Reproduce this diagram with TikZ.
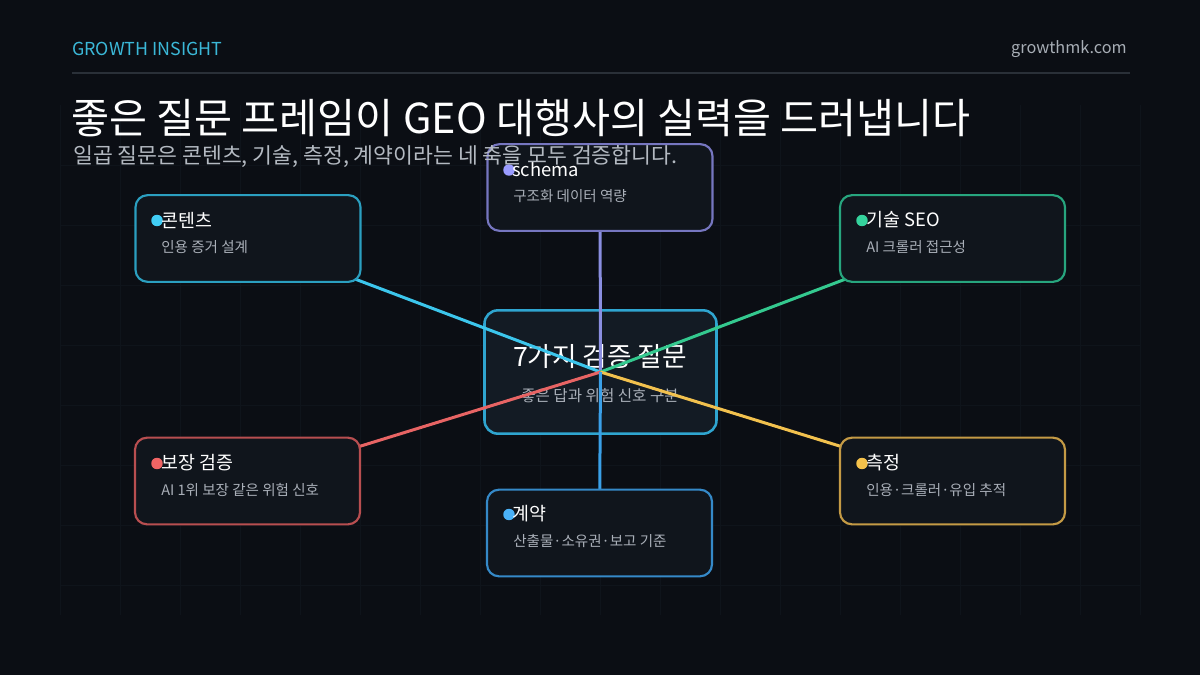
\documentclass[tikz,border=0pt]{standalone}
\usepackage{fontspec}
\setmainfont{Noto Sans CJK KR}
\usetikzlibrary{backgrounds}
\pgfdeclarelayer{back}
\pgfdeclarelayer{mid}
\pgfsetlayers{back,mid,main}
\definecolor{bg}{HTML}{0B0E14}
\definecolor{gridc}{HTML}{0F141B}
\definecolor{rulec}{HTML}{2A3038}
\definecolor{hdrc}{HTML}{3BB8D8}
\definecolor{sitec}{HTML}{A8AEB6}
\definecolor{subc}{HTML}{B4BAC2}
\definecolor{boxfill}{HTML}{10151C}
\definecolor{cfill}{HTML}{131B24}
\definecolor{txtgray}{HTML}{A9AFB8}
\definecolor{cyB}{HTML}{2B9FC0}\definecolor{cyL}{HTML}{3CC6EC}\definecolor{cyD}{HTML}{41CDF5}
\definecolor{puB}{HTML}{7676C0}\definecolor{puL}{HTML}{8A8EE0}\definecolor{puD}{HTML}{9A9CFF}
\definecolor{grB}{HTML}{27A57E}\definecolor{grL}{HTML}{34C98F}\definecolor{grD}{HTML}{35D39D}
\definecolor{reB}{HTML}{B84E50}\definecolor{reL}{HTML}{E86464}\definecolor{reD}{HTML}{F06464}
\definecolor{yeB}{HTML}{C49A45}\definecolor{yeL}{HTML}{F2C14E}\definecolor{yeD}{HTML}{F5C24B}
\definecolor{blB}{HTML}{3589C8}\definecolor{blL}{HTML}{3AA0E8}\definecolor{blD}{HTML}{4AB2F8}
\definecolor{ceB}{HTML}{2FA5D0}
\tikzset{
  obox/.style={rectangle, rounded corners=9pt, fill=boxfill, line width=1.6pt,
    minimum width=168.75pt, minimum height=65pt, inner sep=0pt},
  cbox/.style={rectangle, rounded corners=10pt, fill=cfill, draw=ceB, line width=1.9pt,
    minimum width=174pt, minimum height=92.5pt, inner sep=0pt},
  bdot/.style={circle, minimum size=8.6pt, inner sep=0pt},
  btitle/.style={anchor=west, inner sep=0pt, text=white, font=\fontsize{13.8}{16}\selectfont},
  bsub/.style={anchor=west, inner sep=0pt, text=txtgray, font=\fontsize{10.9}{13}\selectfont},
  conn/.style={line width=2.25pt},
}
\begin{document}
\begin{tikzpicture}[x=0.75pt,y=-0.75pt]
\useasboundingbox (0,0) rectangle (1200,675);
\begin{pgfonlayer}{back}
\fill[bg] (0,0) rectangle (1200,675);
\foreach \gx in {60,120,...,1140} \draw[gridc, line width=0.75pt] (\gx,105) -- (\gx,615);
\foreach \gy in {165,225,...,585} \draw[gridc, line width=0.75pt] (60,\gy) -- (1140,\gy);
\end{pgfonlayer}

% header
\node[anchor=west, inner sep=0pt, text=hdrc, font=\fontsize{13.4}{15}\selectfont] (hdr) at (72,49) {GROWTH INSIGHT};
\node[anchor=east, inner sep=0pt, text=sitec, font=\fontsize{12.2}{14}\selectfont] (site) at (1127,49) {growthmk.com};
\coordinate (ruleL) at (72,73);
\coordinate (ruleR) at (1130,73);
\draw[rulec, line width=1.5pt] (ruleL) -- (ruleR);
\node[anchor=west, inner sep=0pt, text=white, font=\fontsize{31}{35}\selectfont] (title) at (71,118) {좋은 질문 프레임이 GEO 대행사의 실력을 드러냅니다};

% center box (under connectors)
\begin{pgfonlayer}{back}
\node[cbox] (center) at (600.5,372) {};
\node[inner sep=0pt, text=white, font=\fontsize{20}{23}\selectfont] (ctitle) at (600,357) {7가지 검증 질문};
\node[inner sep=0pt, text=txtgray, font=\fontsize{11.7}{14}\selectfont] (csub) at (600,396) {좋은 답과 위험 신호 구분};
\end{pgfonlayer}

% outer boxes
\node[obox, draw=cyB] (content) at (248,238.5) {};
\node[bdot, fill=cyD] (contentdot) at (157,220.5) {};
\node[btitle] (contentT) at (161,220) {콘텐츠};
\node[bsub] (contentS) at (161,247) {인용 증거 설계};

\node[obox, draw=puB] (schema) at (600,187.5) {};
\node[bdot, fill=puD] (schemadot) at (509,170) {};
\node[btitle] (schemaT) at (512,169) {schema};
\node[bsub] (schemaS) at (513,196) {구조화 데이터 역량};

\node[obox, draw=grB] (tech) at (952.5,238.5) {};
\node[bdot, fill=grD] (techdot) at (862,220.5) {};
\node[btitle] (techT) at (866,220) {기술 SEO};
\node[bsub] (techS) at (866,247) {AI 크롤러 접근성};

\node[obox, draw=reB] (guar) at (247.5,481) {};
\node[bdot, fill=reD] (guardot) at (157,463.5) {};
\node[btitle] (guarT) at (161,463) {보장 검증};
\node[bsub] (guarS) at (161,490) {AI 1위 보장 같은 위험 신호};

\node[obox, draw=yeB] (meas) at (952.5,481) {};
\node[bdot, fill=yeD] (measdot) at (862,463.5) {};
\node[btitle] (measT) at (866,463) {측정};
\node[bsub] (measS) at (866,490) {인용·크롤러·유입 추적};

\node[obox, draw=blB] (contract) at (599.5,533) {};
\node[bdot, fill=blD] (contractdot) at (509,514.5) {};
\node[btitle] (contractT) at (512,514) {계약};
\node[bsub] (contractS) at (513,541) {산출물·소유권·보고 기준};

% subtitle (over schema box)
\node[anchor=west, inner sep=0pt, text=subc, font=\fontsize{16.2}{19}\selectfont] (subtitle) at (73,157) {일곱 질문은 콘텐츠, 기술, 측정, 계약이라는 네 축을 모두 검증합니다.};

% connectors
\begin{pgfonlayer}{mid}
\draw[conn, cyL] (center.center) -- (content.center);
\draw[conn, puL] (center.center) -- (schema.center);
\draw[conn, grL] (center.center) -- (tech.center);
\draw[conn, reL] (center.center) -- (guar.center);
\draw[conn, yeL] (center.center) -- (meas.center);
\draw[conn, blL] (center.center) -- (contract.center);
\end{pgfonlayer}
\end{tikzpicture}
\end{document}
